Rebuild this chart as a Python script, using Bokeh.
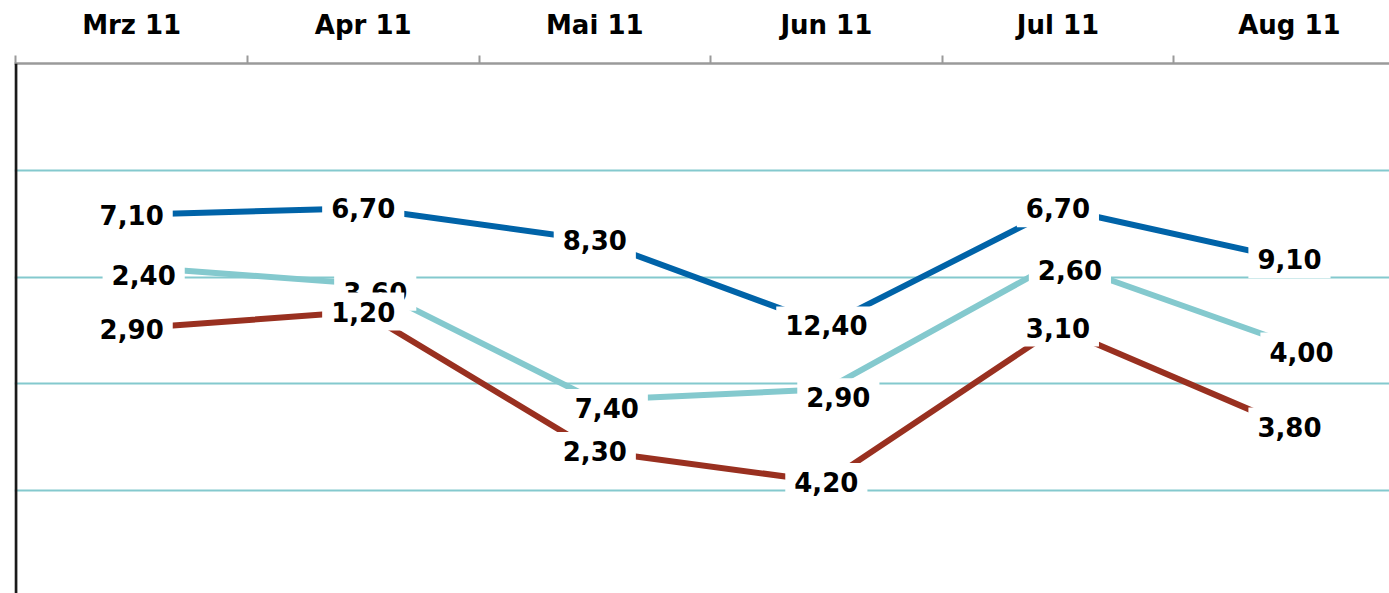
from bokeh.plotting import figure
from bokeh.models import Range1d, FixedTicker, Span, ColumnDataSource
from bokeh.embed import file_html
from bokeh.resources import INLINE
from bokeh.core.properties import value

months = ["Mrz 11", "Apr 11", "Mai 11", "Jun 11", "Jul 11", "Aug 11"]

# plotted positions (hidden axis units) and the values shown in the data labels
blue_y = [2.59, 2.65, 2.35, 1.55, 2.65, 2.17]
blue_lbl = ["7,10", "6,70", "8,30", "12,40", "6,70", "9,10"]
cyan_y = [2.10, 1.94, 0.85, 0.95, 2.15, 1.38]
cyan_lbl = ["2,40", "3,60", "7,40", "2,90", "2,60", "4,00"]
red_y = [1.52, 1.68, 0.37, 0.08, 1.53, 0.60]
red_lbl = ["2,90", "1,20", "2,30", "4,20", "3,10", "3,80"]

FONT = "DejaVu Sans"
xs = [i + 0.5 for i in range(len(months))]

p = figure(width=1389, height=593, output_backend="svg", toolbar_location=None,
           x_range=Range1d(-0.006, 5.932), y_range=Range1d(-0.967, 4.009),
           x_axis_location="above", min_border_left=14, min_border_right=0,
           min_border_top=63, min_border_bottom=0)
p.outline_line_color = None
p.background_fill_color = "white"
p.border_fill_color = "white"

xa = p.xaxis[0]
xa.ticker = FixedTicker(ticks=xs, minor_ticks=list(range(len(months))))
xa.major_label_overrides = {x: m for x, m in zip(xs, months)}
xa.major_tick_out = 0
xa.major_tick_in = 0
xa.minor_tick_out = 8
xa.minor_tick_in = 0
xa.minor_tick_line_color = "#9a9a9a"
xa.minor_tick_line_width = 2
xa.axis_line_color = "#9a9a9a"
xa.axis_line_width = 2.5
xa.major_label_standoff = 16
xa.major_label_text_font = FONT
xa.major_label_text_font_style = "bold"
xa.major_label_text_font_size = "26px"
xa.major_label_text_color = "#000000"

p.yaxis.visible = False
p.xgrid.visible = False
p.ygrid.ticker = FixedTicker(ticks=[0, 1, 2, 3])
p.ygrid.grid_line_color = "#84c9ce"
p.ygrid.grid_line_width = 2

p.add_layout(Span(location=0, dimension="height", line_color="#1a1a1a", line_width=3))

series = [
    (blue_y, blue_lbl, "#0063a8", 0, 0),
    (cyan_y, cyan_lbl, "#84c9ce", 12, 8),
    (red_y, red_lbl, "#993020", 0, 0),
]

for ys, lbl, col, dx, dy in series:
    p.line(xs, ys, line_color=col, line_width=6)

for ys, lbl, col, dx, dy in series:
    src = ColumnDataSource(dict(x=xs, y=ys, t=lbl))
    p.text("x", "y", text="t", source=src, x_offset=dx, y_offset=dy,
           text_align="center", text_baseline="middle",
           text_font=value(FONT), text_font_style="bold", text_font_size="26px",
           text_color="#000000", background_fill_color="white",
           padding=9)

open("out.html", "w").write(file_html(p, INLINE))
